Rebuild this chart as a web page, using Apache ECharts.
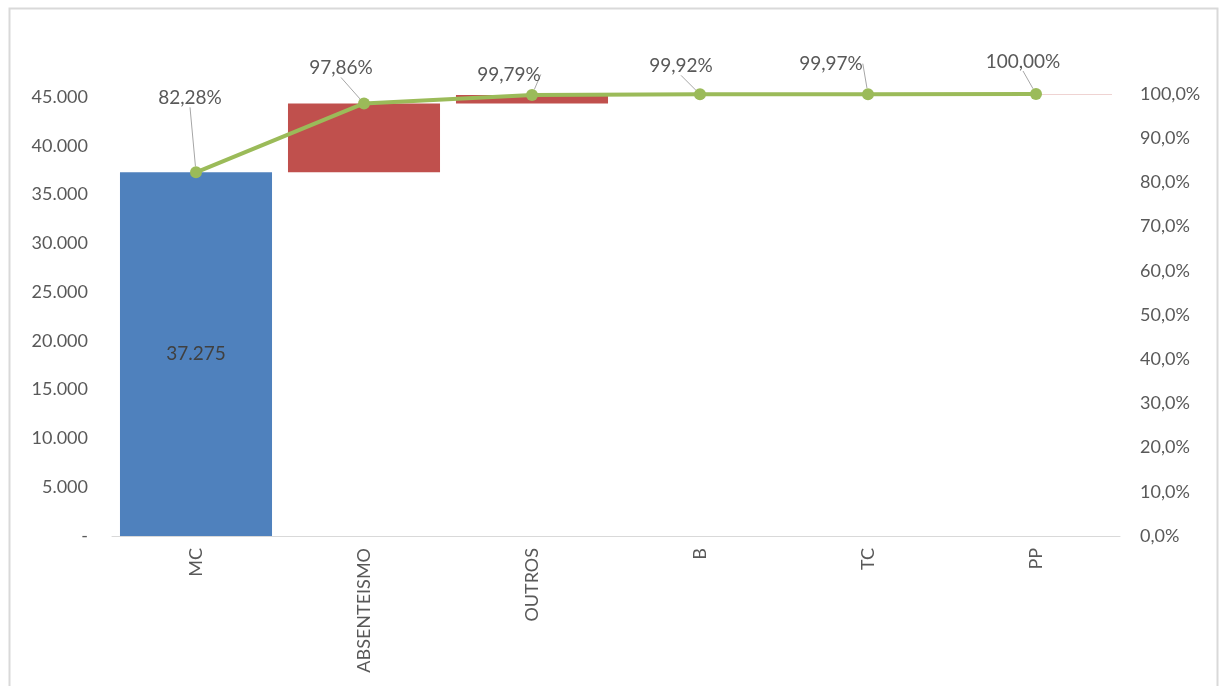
<!DOCTYPE html>
<html>
<head>
<meta charset="utf-8">
<script src="https://cdn.jsdelivr.net/npm/echarts@6/dist/echarts.min.js"></script>
<style>
html,body{margin:0;padding:0;background:#fff;}
#chart{width:1219px;height:686px;}
</style>
</head>
<body>
<div id="chart"></div>
<script>
const categories = ['MC', 'ABSENTEISMO', 'OUTROS', 'B', 'TC', 'PP'];
const values = [37275, 7058, 874, 59, 23, 14];
const cumulativePct = [0.8228, 0.9786, 0.9979, 0.9992, 0.9997, 1.0];
const pctLabels = ['82,28%', '97,86%', '99,79%', '99,92%', '99,97%', '100,00%'];
const leftTickStep = 5000;
const rightTickStep = 0.1;

const total = values.reduce((a, b) => a + b, 0);
const bases = [];
let run = 0;
values.forEach((v, i) => { bases.push(i === 0 ? 0 : run); run += v; });
const firstBar = values.map((v, i) => i === 0 ? v : '-');
const redBars = values.map((v, i) => i === 0 ? '-' : v);

const labelOffsets = [[-6, -54], [-23, -15], [-23, 0], [-19, -8], [-37, -10], [-13, -12]];

function fmtThousands(v) {
  if (v === 0) return '-';
  return String(Math.round(v)).replace(/\B(?=(\d{3})+(?!\d))/g, '.');
}

const FONT = 'Lato, "Open Sans", sans-serif';
const chart = echarts.init(document.getElementById('chart'));
chart.setOption({
  animation: false,
  textStyle: { fontFamily: FONT },
  graphic: [{
    type: 'rect',
    left: 7, top: 6,
    shape: { width: 1208, height: 720 },
    style: { fill: 'none', stroke: '#D9D9D9', lineWidth: 2 },
    silent: true
  }],
  grid: { left: 112, right: 99, top: 94, bottom: 150 },
  xAxis: {
    type: 'category',
    data: categories,
    axisLine: { lineStyle: { color: '#D9D9D9', width: 1 } },
    axisTick: { show: false },
    axisLabel: { rotate: 90, color: '#595959', fontSize: 18, fontFamily: FONT, margin: 12 }
  },
  yAxis: [{
    type: 'value',
    min: 0,
    max: total,
    interval: leftTickStep,
    splitLine: { show: false },
    axisLine: { show: false },
    axisTick: { show: false },
    axisLabel: { color: '#595959', fontSize: 18, fontFamily: FONT, margin: 24, showMaxLabel: false, formatter: fmtThousands }
  }, {
    type: 'value',
    min: 0,
    max: 1,
    interval: rightTickStep,
    splitLine: { show: false },
    axisLine: { show: false },
    axisTick: { show: false },
    axisLabel: { color: '#595959', fontSize: 18, fontFamily: FONT, margin: 20,
      formatter: v => (v * 100).toFixed(1).replace('.', ',') + '%' }
  }],
  series: [{
    type: 'bar',
    stack: 'w',
    data: bases,
    itemStyle: { color: 'transparent' },
    barCategoryGap: '9.5%',
    silent: true
  }, {
    type: 'bar',
    stack: 'w',
    data: firstBar,
    itemStyle: { color: '#4F81BD' },
    label: { show: true, position: 'inside', color: '#404040', fontSize: 19, fontFamily: FONT, formatter: p => fmtThousands(p.value) }
  }, {
    type: 'bar',
    stack: 'w',
    data: redBars,
    barMinHeight: 1,
    itemStyle: { color: '#C0504D' }
  }, {
    type: 'line',
    yAxisIndex: 1,
    data: cumulativePct,
    symbol: 'circle',
    symbolSize: 12,
    lineStyle: { color: '#9BBB59', width: 4 },
    itemStyle: { color: '#9BBB59' },
    z: 5,
    label: {
      show: true, position: 'top', color: '#595959', fontSize: 19, fontFamily: FONT,
      formatter: p => pctLabels[p.dataIndex]
    },
    labelLine: { show: true, lineStyle: { color: '#A6A6A6', width: 1 } },
    labelLayout: p => ({ dx: labelOffsets[p.dataIndex][0], dy: labelOffsets[p.dataIndex][1] })
  }]
});
</script>
</body>
</html>
